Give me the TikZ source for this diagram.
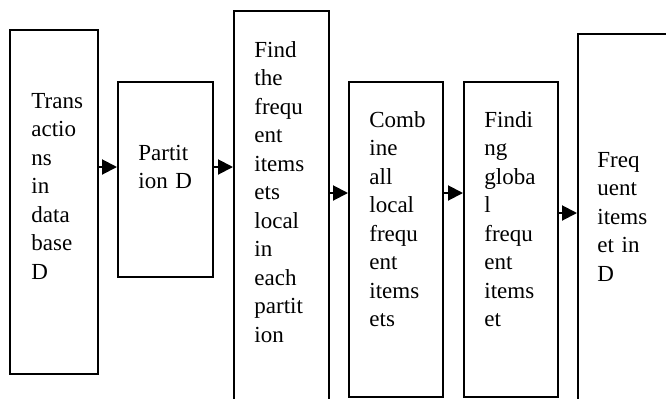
\documentclass[tikz,border=0pt]{standalone}
\usepackage{fontspec}
\setmainfont{Liberation Serif}
\usetikzlibrary{arrows.meta}
\usetikzlibrary{positioning}

\tikzset{
    stage/.style={draw, line width=1pt, rectangle, anchor=north west, inner sep=0pt},
    lbl/.style={anchor=base west, align=left, inner sep=0pt, text width=52pt,
        font=\fontsize{11.5}{14.25}\selectfont},
    arr/.style={line width=1pt, -{Triangle[length=7.5pt,width=7.5pt]}}
}

\begin{document}
\begin{tikzpicture}[x=0.5pt, y=-0.5pt]
        \useasboundingbox (0,0) rectangle (666,398);
        \clip (0,0) rectangle (666,398);

        % Define nodes
        \node[stage, minimum width=44pt,   minimum height=172pt]   (b1) at (9,29)   {};
        \node[stage, minimum width=47.5pt, minimum height=97.5pt]  (b2) at (117,81) {};
        \node[stage, minimum width=47.5pt, minimum height=200pt]   (b3) at (233,10) {};
        \node[stage, minimum width=47pt,   minimum height=157.5pt] (b4) at (348,81) {};
        \node[stage, minimum width=47pt,   minimum height=157.5pt] (b5) at (463,81) {};
        \node[stage, minimum width=60pt,   minimum height=190pt]   (b6) at (577,33) {};

        % Texts
        \node[lbl] (t1) at (31,108)  {Trans\\actio\\ns\\in\\data\\base\\D};
        \node[lbl] (t2) at (138,160) {Partit\\ion D};
        \node[lbl] (t3) at (254,57)  {Find\\the\\frequ\\ent\\items\\ets\\local\\in\\each\\partit\\ion};
        \node[lbl] (t4) at (369,127) {Comb\\ine\\all\\local\\frequ\\ent\\items\\ets};
        \node[lbl] (t5) at (484,127) {Findi\\ng\\globa\\l\\frequ\\ent\\items\\et};
        \node[lbl] (t6) at (597,167) {Freq\\uent\\items\\et in\\D};

        % Connect the nodes
        \draw[arr] (b1.east |- 0,167) -- (b2.west |- 0,167);
        \draw[arr] (b2.east |- 0,167) -- (b3.west |- 0,167);
        \draw[arr] (b3.east |- 0,193) -- (b4.west |- 0,193);
        \draw[arr] (b4.east |- 0,193) -- (b5.west |- 0,193);
        \draw[arr] (b5.east |- 0,213) -- (b6.west |- 0,213);
\end{tikzpicture}
\end{document}
